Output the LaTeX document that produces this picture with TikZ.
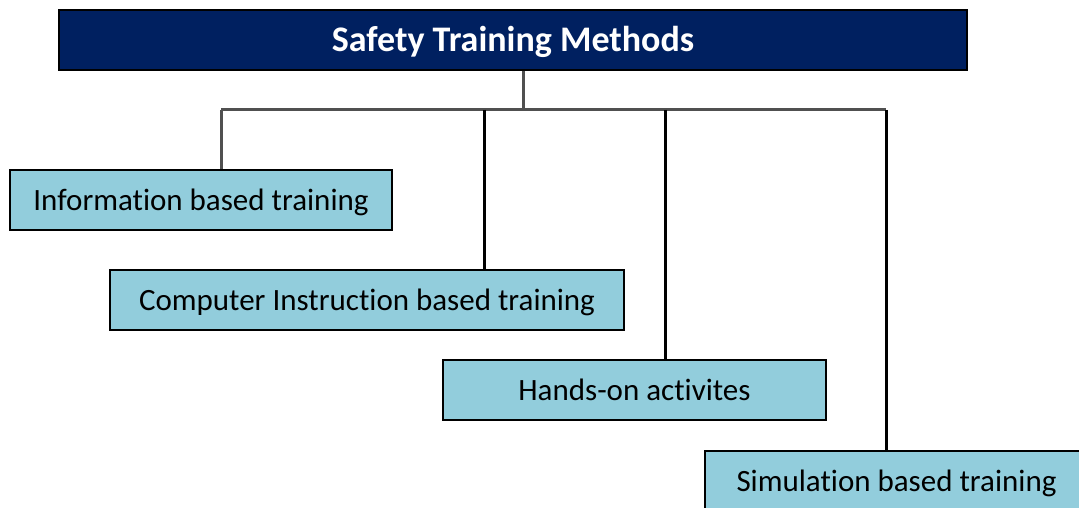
\documentclass[tikz,border=0pt]{standalone}
\usepackage{fontspec}
\setmainfont{Carlito}[Ligatures=CommonOff]
\definecolor{navy}{HTML}{002060}
\definecolor{aqua}{HTML}{92CDDC}
\definecolor{busgrey}{HTML}{505050}
\begin{document}
\begin{tikzpicture}[x=1pt,y=-1pt,
  titlebox/.style={draw=black,line width=1.5pt,fill=navy,text=white,minimum width=908pt,minimum height=60pt,inner sep=0pt,text height=24pt,text depth=0pt,font=\fontsize{36}{42}\selectfont\bfseries},
  itembox/.style={draw=black,line width=1.3pt,fill=aqua,text=black,minimum height=60pt,inner sep=0pt,text height=20pt,text depth=0pt,font=\fontsize{31}{36}\selectfont},
  greyline/.style={draw=busgrey,line width=3pt},
  blackline/.style={draw=black,line width=3pt}]
\useasboundingbox (0,0) rectangle (1079,508);
\clip (0,0) rectangle (1079,508);
\fill[white] (0,0) rectangle (1079,508);
\node[titlebox] (title) at (513,40) {Safety Training Methods};
\node[itembox,minimum width=382pt] (info) at (201,200) {Information based training};
\node[itembox,minimum width=514pt] (comp) at (367,300) {Computer Instruction based training};
\node[itembox,minimum width=383pt] (hands) at (634.5,390) {Hands-on activites};
\node[itembox,minimum width=383pt] (sim) at (896.5,481) {Simulation based training};
\coordinate (j) at (523,111);
\coordinate (busL) at (221,110);
\coordinate (busR) at (886,110);
\draw[greyline] (title.south -| j) -- (j);
\draw[greyline] (busL) -- (busR);
\draw[greyline] (busL) -- (info.north -| busL);
\draw[blackline] ([xshift=117pt]comp.north |- busL) -- ([xshift=117pt]comp.north);
\draw[blackline] ([xshift=30.5pt]hands.north |- busL) -- ([xshift=30.5pt]hands.north);
\draw[blackline] (busR) -- (sim.north -| busR);
\end{tikzpicture}
\end{document}
